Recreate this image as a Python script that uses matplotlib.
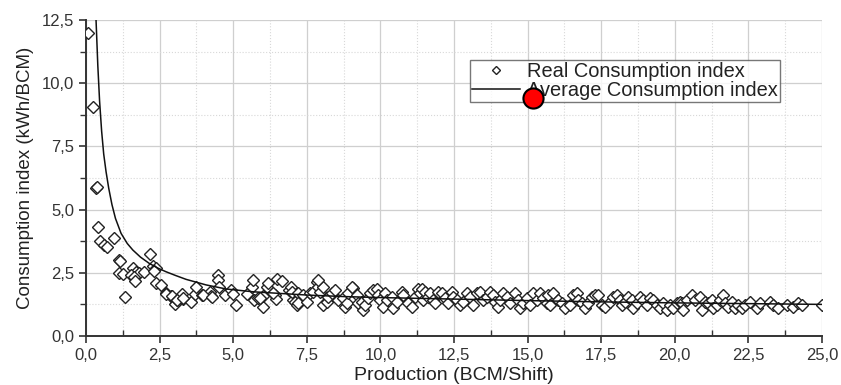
import matplotlib
matplotlib.use("Agg")
import matplotlib.pyplot as plt
from matplotlib.ticker import MultipleLocator, FuncFormatter

plt.rcParams["font.family"] = ["Liberation Sans", "DejaVu Sans"]

# real consumption index (scatter)
real_x = [
    0.08, 0.25, 0.34, 0.36, 0.40, 0.48, 0.62, 0.70, 0.96, 1.13, 1.17, 1.13, 1.25, 1.34,
    1.59, 1.70, 1.81, 1.53, 1.64, 1.67, 1.98, 2.18, 2.26, 2.38, 2.32, 2.38, 2.55, 2.72,
    2.89, 2.97, 2.71, 2.93, 3.02, 3.10, 3.25, 3.28, 3.57, 3.70, 3.74, 3.95, 4.21, 4.25,
    4.49, 4.47, 4.52, 4.72, 4.91, 5.00, 5.08, 5.46, 5.63, 5.68, 5.71, 5.85, 6.02, 6.02,
    6.14, 6.19, 6.42, 6.45, 6.48, 6.65, 6.91, 6.96, 7.02, 7.10, 7.16, 3.08, 3.31, 3.98,
    4.27, 5.91, 6.36, 6.99,
    7.21, 7.21, 7.38, 7.49, 7.61, 7.72, 7.84, 7.89, 7.95, 8.06, 8.06, 8.18, 8.23, 8.35,
    8.46, 8.57, 8.74, 8.80, 8.86, 8.91, 9.08, 9.19, 9.25, 9.36, 9.42, 9.48, 9.59, 9.65,
    9.76, 9.87, 9.93, 9.99, 10.10, 10.16, 10.21, 10.38, 10.44, 10.55, 10.72, 10.78, 10.95,
    11.06, 11.18, 11.29, 11.35, 11.46, 7.89, 9.02,
    11.40, 11.51, 11.63, 11.68, 11.80, 11.85, 11.97, 12.08, 12.19, 12.31, 12.42, 12.48,
    12.59, 12.70, 12.82, 12.93, 13.04, 13.16, 13.27, 13.38, 13.50, 13.61, 13.72, 13.83,
    13.89, 14.00, 14.06, 14.17, 14.29, 14.40, 14.57, 14.68, 14.74, 14.85, 14.97, 15.08,
    15.19, 15.31, 15.42, 15.53, 15.65, 15.70,
    15.76, 15.87, 16.04, 16.16, 16.27, 16.44, 16.55, 16.67, 16.72, 16.84, 16.95, 17.06,
    17.18, 17.29, 17.40, 17.52, 17.63, 17.80, 17.91, 18.03, 18.14, 18.20, 18.31, 18.42,
    18.54, 18.59, 18.70, 18.82, 18.93, 19.05, 19.16, 19.27, 19.38, 19.50, 19.61, 19.72,
    19.84, 19.95, 20.06, 20.18,
    20.23, 20.29, 20.40, 20.57, 20.69, 20.86, 20.91, 21.03, 21.14, 21.25, 21.31, 21.42,
    21.54, 21.65, 21.71, 21.82, 21.93, 22.04, 22.16, 22.27, 22.38, 22.55, 22.78, 22.89,
    23.23, 23.35, 23.52, 23.80, 24.03, 24.20, 24.31, 24.99,
]
real_y = [
    12.0, 9.07, 5.84, 5.90, 4.32, 3.77, 3.60, 3.53, 3.86, 3.00, 2.96, 2.48, 2.45, 1.53,
    2.68, 2.54, 2.50, 2.41, 2.35, 2.18, 2.54, 3.23, 2.77, 2.68, 2.57, 2.11, 2.02, 1.71,
    1.59, 1.49, 1.66, 1.58, 1.27, 1.42, 1.66, 1.45, 1.36, 1.66, 1.93, 1.62, 1.75, 1.58,
    2.41, 2.21, 1.93, 1.62, 1.82, 1.65, 1.23, 1.66, 1.95, 2.21, 1.42, 1.52, 1.13, 1.57,
    1.93, 2.11, 1.62, 1.45, 2.24, 2.18, 1.82, 1.93, 1.42, 1.36, 1.23, 1.42, 1.49, 1.62,
    1.56, 1.49, 1.69, 1.75,
    1.69, 1.29, 1.62, 1.36, 1.71, 1.75, 2.15, 1.95, 1.75, 1.95, 1.23, 1.36, 1.56, 1.69,
    1.82, 1.42, 1.49, 1.16, 1.29, 1.69, 1.89, 1.62, 1.29, 1.36, 1.03, 1.23, 1.49, 1.69,
    1.82, 1.85, 1.62, 1.42, 1.16, 1.69, 1.42, 1.56, 1.09, 1.36, 1.75, 1.62, 1.29,
    1.16, 1.56, 1.85, 1.69, 1.42, 2.21, 1.93,
    1.85, 1.75, 1.56, 1.69, 1.42, 1.29, 1.75, 1.69, 1.49, 1.29, 1.75, 1.56,
    1.42, 1.23, 1.36, 1.69, 1.56, 1.23, 1.69, 1.75, 1.42, 1.56, 1.75, 1.62,
    1.36, 1.16, 1.42, 1.69, 1.56, 1.29, 1.69, 1.42, 1.09, 1.29, 1.49, 1.23,
    1.69, 1.42, 1.69, 1.49, 1.29, 1.62,
    1.23, 1.69, 1.42, 1.29, 1.09, 1.23, 1.62, 1.69, 1.42, 1.29, 1.09, 1.29,
    1.56, 1.62, 1.62, 1.23, 1.16, 1.36, 1.56, 1.62, 1.42, 1.23, 1.36, 1.56,
    1.42, 1.09, 1.29, 1.56, 1.42, 1.23, 1.49, 1.42, 1.23, 1.09, 1.29, 1.03,
    1.23, 1.09, 1.29, 1.36,
    1.29, 1.03, 1.42, 1.62, 1.42, 1.56, 1.03, 1.36, 1.29, 1.42, 1.09, 1.23,
    1.42, 1.62, 1.29, 1.16, 1.36, 1.09, 1.23, 1.09, 1.23, 1.36, 1.09, 1.29,
    1.36, 1.23, 1.09, 1.23, 1.16, 1.29, 1.23, 1.23,
]

# average consumption index (fitted curve)
avg_x = [0.34, 0.40, 0.46, 0.53, 0.60, 0.68, 0.77, 0.88, 1.00, 1.19, 1.40, 1.59, 1.85,
         2.15, 2.45, 2.72, 3.05, 3.40, 4.08, 4.76, 5.66, 6.50, 7.50, 8.75, 10.0, 12.5,
         15.0, 17.5, 20.0, 22.5, 25.0]
avg_y = [12.5, 10.7, 9.3, 8.1, 7.2, 6.5, 5.85, 5.2, 4.65, 4.06, 3.66, 3.40, 3.12,
         2.87, 2.68, 2.54, 2.39, 2.24, 2.02, 1.86, 1.75, 1.69, 1.62, 1.56, 1.52, 1.46,
         1.40, 1.35, 1.31, 1.28, 1.25]

marker_x = [15.2]
marker_y = [9.4]


def comma(v, pos):
    return f"{v:.1f}".replace(".", ",")


fig = plt.figure(figsize=(8.41, 3.85), dpi=100)
ax = fig.add_axes([0.1023, 0.1273, 0.8751, 0.8207])

ax.plot(real_x, real_y, linestyle="none", marker="D", ms=6, mfc="white", mec="#222222",
        mew=1.0, label="Real Consumption index", zorder=3)
ax.plot(avg_x, avg_y, color="#111111", lw=1.1, label="Average Consumption index", zorder=4)
ax.plot(marker_x, marker_y, linestyle="none", marker="o", ms=14.5, mfc="#ff0000",
        mec="black", mew=1.5, zorder=10)

ax.set_xlim(0, 25)
ax.set_ylim(0, 12.5)
ax.xaxis.set_major_locator(MultipleLocator(2.5))
ax.yaxis.set_major_locator(MultipleLocator(2.5))
ax.xaxis.set_minor_locator(MultipleLocator(1.25))
ax.yaxis.set_minor_locator(MultipleLocator(1.25))
ax.xaxis.set_major_formatter(FuncFormatter(comma))
ax.yaxis.set_major_formatter(FuncFormatter(comma))

ax.grid(which="major", color="#cfcfcf", lw=0.9)
ax.grid(which="minor", color="#d8d8d8", lw=0.8, linestyle=":")
ax.set_axisbelow(True)

for side in ["top", "right"]:
    ax.spines[side].set_visible(False)
for side in ["left", "bottom"]:
    ax.spines[side].set_linewidth(1.4)
    ax.spines[side].set_color("#333333")

ax.tick_params(which="major", length=5, width=1.2, color="#333333", labelsize=12,
               labelcolor="#333333")
ax.tick_params(axis="x", which="minor", direction="in", length=4, width=1.0, color="#333333")
ax.tick_params(axis="y", which="minor", length=4, width=1.0, color="#333333")

ax.set_xlabel("Production (BCM/Shift)", fontsize=14, color="#222222", labelpad=3)
ax.set_ylabel("Consumption index (kWh/BCM)", fontsize=13.5, color="#222222", labelpad=6)

leg = ax.legend(loc="upper left", bbox_to_anchor=(0.522, 0.873), fontsize=14.4,
                frameon=True, fancybox=False, handlelength=2.4, handletextpad=0.35,
                borderpad=0.1, labelspacing=0.0, markerscale=0.75,
                borderaxespad=0)
leg.get_frame().set_edgecolor("#555555")
leg.get_frame().set_linewidth(1.0)
for t in leg.get_texts():
    t.set_color("#222222")

fig.savefig("out.png", dpi=100)
